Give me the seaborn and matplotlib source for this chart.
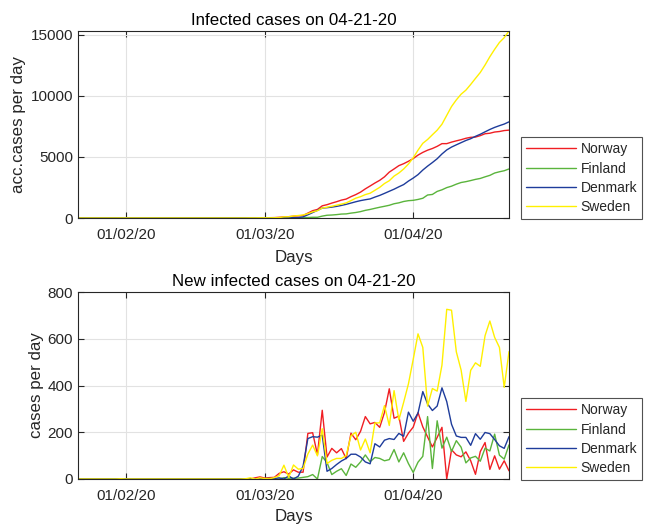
import numpy as np
import pandas as pd
import seaborn as sns
import matplotlib.pyplot as plt
import matplotlib.dates as mdates

# days 22 Jan 2020 .. 21 Apr 2020
start_date = '2020-01-22'
end_date = '2020-04-21'
countries = ['Norway', 'Finland', 'Denmark', 'Sweden']
colors = ['#f01e23', '#5ab43c', '#1e3c9b', '#fff000']
tick_dates = ['2020-02-01', '2020-03-01', '2020-04-01']

# new cases per day (22 Jan .. 29 Feb, then 1 Mar .. 21 Apr)
norway_new = [0, 0, 0, 0, 0, 0, 0, 0, 0, 0,
              0, 0, 0, 0, 0, 0, 0, 0, 0, 0,
              0, 0, 0, 0, 0, 0, 0, 0, 0, 0,
              0, 0, 0, 0, 0, 1, 0, 5, 9,
              4, 6, 7, 24, 31, 21, 39, 29, 29, 195,
              198, 104, 294, 94, 131, 112, 130, 87, 196, 168,
              204, 267, 236, 242, 221, 285, 386, 260, 269, 161,
              196,
              222, 284, 223, 180, 137, 178, 221, 0, 125, 103,
              95, 116, 78, 20, 117, 156, 41, 99, 42, 78,
              35]
finland_new = [0, 0, 0, 0, 0, 0, 0, 1, 0, 0,
               0, 0, 0, 0, 0, 0, 0, 0, 0, 0,
               0, 0, 0, 0, 0, 0, 0, 0, 0, 0,
               0, 0, 0, 0, 0, 1, 0, 0, 0,
               1, 3, 0, 0, 6, 3, 4, 4, 7, 10,
               19, 0, 96, 70, 19, 33, 44, 15, 64, 50,
               73, 103, 74, 92, 88, 78, 83, 126, 73, 112,
               66,
               28, 72, 97, 267, 45, 249, 132, 179, 118, 164,
               136, 69, 90, 97, 76, 132, 120, 192, 102, 85,
               146]
denmark_new = [0, 0, 0, 0, 0, 0, 0, 0, 0, 0,
               0, 0, 0, 0, 0, 0, 0, 0, 0, 0,
               0, 0, 0, 0, 0, 0, 0, 0, 0, 0,
               0, 0, 0, 0, 0, 0, 1, 0, 0,
               2, 1, 2, 5, 0, 13, 0, 12, 55, 173,
               181, 179, 188, 33, 45, 62, 77, 88, 106, 106,
               94, 73, 65, 151, 137, 166, 173, 169, 195, 183,
               286,
               247, 282, 374, 321, 293, 312, 390, 331, 234, 184,
               178, 178, 144, 194, 170, 199, 194, 169, 142, 131,
               181]
sweden_new = [0, 0, 0, 0, 0, 0, 0, 0, 0, 1,
              0, 0, 0, 0, 0, 0, 0, 0, 0, 0,
              0, 0, 0, 0, 0, 0, 0, 0, 0, 0,
              0, 0, 0, 0, 0, 1, 5, 0, 5,
              2, 1, 6, 14, 59, 7, 60, 42, 45, 107,
              145, 99, 215, 66, 80, 88, 88, 100, 185, 200,
              124, 171, 112, 240, 240, 314, 229, 378, 253, 328,
              407,
              512, 621, 563, 312, 387, 376, 487, 726, 722, 544,
              466, 332, 465, 497, 482, 613, 676, 606, 563, 392,
              545]

dates = pd.date_range(start_date, end_date, freq='D')
frames = []
for name, new in zip(countries, [norway_new, finland_new, denmark_new, sweden_new]):
    frames.append(pd.DataFrame({'date': dates, 'country': name,
                                'new': new, 'total': np.cumsum(new)}))
df = pd.concat(frames, ignore_index=True)

sns.set_theme(style='whitegrid')
plt.rcParams['font.family'] = ['Liberation Sans', 'DejaVu Sans']
text_color = '#262626'

fig, axes = plt.subplots(nrows=2, figsize=(6.46, 5.24), dpi=100)
axes[0].set_position([78 / 646, 1 - 218 / 524, 431 / 646, 187 / 524])
axes[1].set_position([78 / 646, 1 - 479 / 524, 431 / 646, 187 / 524])

palette = dict(zip(countries, colors))
sns.lineplot(data=df, x='date', y='total', hue='country', palette=palette,
             linewidth=1, ax=axes[0])
sns.lineplot(data=df, x='date', y='new', hue='country', palette=palette,
             linewidth=1, ax=axes[1])

axes[0].set_title('Infected cases on 04-21-20', fontsize=12.2, color='black', pad=4)
axes[1].set_title('New infected cases on 04-21-20', fontsize=12.2, color='black', pad=4)
axes[0].set_ylabel('acc.cases per day', fontsize=12.2, color=text_color, labelpad=3)
axes[1].set_ylabel('cases per day', fontsize=12.2, color=text_color, labelpad=2.5)
axes[0].set_ylim(0, df['total'].max())
axes[1].set_ylim(0, 800)
axes[0].set_yticks([0, 5000, 10000, 15000])
axes[1].set_yticks([0, 200, 400, 600, 800])
axes[0].set_xlabel('Days', fontsize=12.2, color=text_color, labelpad=6)
axes[1].set_xlabel('Days', fontsize=12.2, color=text_color, labelpad=4.5)

for ax in axes:
    ax.set_xlim(pd.Timestamp(start_date), pd.Timestamp(end_date))
    ax.set_xticks(pd.to_datetime(tick_dates))
    ax.xaxis.set_major_formatter(mdates.DateFormatter('%d/%m/%y'))
    ax.grid(True, color='#e2e2e2', linewidth=0.8)
    ax.tick_params(direction='in', length=4, width=0.8, colors=text_color,
                   labelsize=11, top=True, right=True, bottom=True, left=True)
    ax.tick_params(axis='x', pad=7)
    ax.tick_params(axis='y', pad=3.5)
    for spine in ax.spines.values():
        spine.set_color(text_color)
        spine.set_linewidth(0.8)
    leg = ax.legend(loc='lower left', bbox_to_anchor=(1.028, -0.005),
                    fontsize=10, frameon=True, fancybox=False,
                    handlelength=3.6, handletextpad=0.35, borderpad=0.35,
                    labelspacing=0.38, borderaxespad=0)
    leg.get_frame().set_edgecolor(text_color)
    leg.get_frame().set_linewidth(0.8)
    for line in leg.get_lines():
        line.set_linewidth(1)

fig.savefig('out.png', dpi=100)
